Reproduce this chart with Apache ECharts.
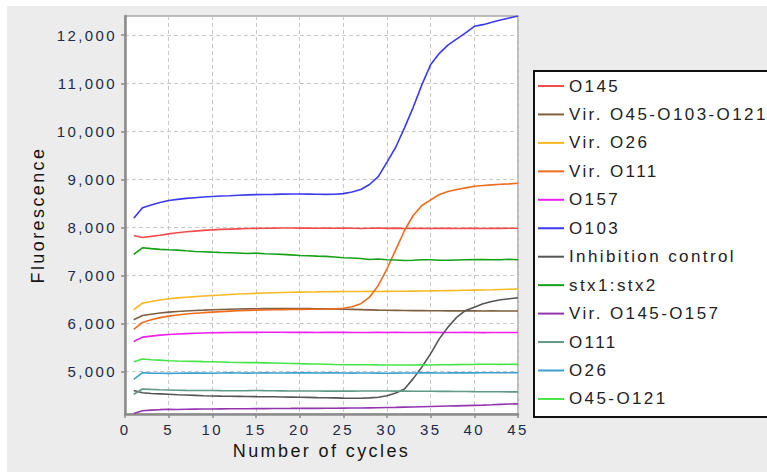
<!DOCTYPE html>
<html>
<head>
<meta charset="utf-8">
<script src="https://cdn.jsdelivr.net/npm/echarts@6/dist/echarts.min.js"></script>
<style>
html,body{margin:0;padding:0;background:#ffffff;}
#bg{position:absolute;left:7px;top:6px;width:760px;height:466px;background:#ececec;}
#chart{position:absolute;left:0;top:0;width:767px;height:473px;}
#chart svg text{letter-spacing:2.4px;}
</style>
</head>
<body>
<div id="bg"></div>
<div id="chart"></div>
<script>
const cycles = [1,2,3,4,5,6,7,8,9,10,11,12,13,14,15,16,17,18,19,20,21,22,23,24,25,26,27,28,29,30,31,32,33,34,35,36,37,38,39,40,41,42,43,44,45];
const yTickValues = [5000,6000,7000,8000,9000,10000,11000,12000];
const xTickValues = [0,5,10,15,20,25,30,35,40,45];

const seriesNames = ['O145','Vir. O45-O103-O121','Vir. O26','Vir. O111','O157','O103','Inhibition control','stx1:stx2','Vir. O145-O157','O111','O26','O45-O121'];
const seriesColors = ['#f24c4c','#7f5f3f','#f7b824','#ef6c1e','#f01ef0','#3a3af0','#555555','#16a016','#9435b0','#5f9a82','#3aa2d2','#46e446'];

const o145 = [7834,7792,7815,7840,7868,7890,7910,7925,7940,7951,7960,7966,7972,7978,7982,7985,7987,7988,7990,7986,7989,7985,7990,7984,7987,7985,7980,7984,7988,7982,7986,7980,7984,7982,7980,7984,7982,7979,7983,7981,7979,7983,7981,7985,7983];
const virO45O103O121 = [6081,6170,6195,6220,6239,6252,6263,6272,6280,6289,6295,6300,6305,6308,6310,6312,6313,6314,6313,6312,6312,6311,6308,6305,6300,6296,6292,6287,6282,6278,6275,6272,6270,6270,6268,6268,6266,6267,6265,6266,6264,6265,6263,6264,6262];
const virO26 = [6289,6426,6460,6490,6518,6535,6550,6562,6575,6586,6595,6605,6615,6623,6630,6637,6643,6648,6652,6655,6658,6660,6663,6665,6667,6668,6670,6671,6670,6672,6674,6675,6677,6679,6681,6684,6687,6690,6694,6697,6700,6704,6709,6714,6719];
const virO111 = [5879,6025,6080,6125,6156,6180,6200,6215,6228,6239,6250,6260,6268,6274,6280,6285,6290,6292,6295,6297,6298,6300,6303,6308,6320,6350,6414,6551,6794,7141,7536,7938,8250,8457,8576,8686,8748,8790,8825,8859,8873,8887,8900,8908,8921];
const o157 = [5630,5719,5740,5760,5775,5785,5793,5800,5805,5810,5813,5815,5818,5820,5818,5820,5822,5820,5818,5820,5818,5816,5818,5820,5818,5815,5817,5815,5818,5816,5818,5815,5817,5815,5818,5816,5814,5816,5818,5815,5813,5816,5815,5817,5815];
const o103 = [8193,8410,8470,8520,8561,8585,8605,8620,8635,8645,8655,8662,8670,8678,8684,8688,8690,8694,8697,8698,8695,8692,8690,8693,8705,8740,8790,8895,9060,9360,9670,10073,10500,10972,11389,11624,11798,11923,12048,12185,12220,12268,12318,12360,12400];
const inhibitionControl = [4610,4562,4545,4538,4530,4522,4515,4508,4500,4495,4492,4490,4487,4484,4481,4480,4478,4475,4472,4468,4465,4460,4458,4455,4450,4448,4447,4455,4470,4500,4557,4640,4856,5097,5376,5688,5929,6135,6274,6343,6414,6462,6497,6518,6538];
const stx1stx2 = [7439,7578,7560,7545,7536,7530,7515,7501,7495,7487,7480,7475,7468,7460,7466,7455,7448,7440,7430,7418,7412,7405,7400,7385,7370,7365,7355,7335,7345,7330,7325,7314,7318,7330,7328,7320,7318,7325,7330,7335,7332,7328,7330,7338,7330];
const virO145O157 = [4130,4189,4200,4210,4218,4215,4220,4222,4224,4224,4226,4228,4228,4230,4232,4232,4234,4235,4236,4238,4236,4238,4240,4240,4242,4244,4246,4248,4250,4255,4258,4262,4265,4270,4275,4280,4285,4290,4295,4300,4305,4312,4320,4328,4330];
const o111 = [4530,4640,4632,4625,4620,4615,4612,4610,4610,4608,4606,4605,4604,4606,4610,4606,4603,4602,4600,4600,4598,4597,4596,4595,4595,4596,4597,4598,4597,4598,4596,4595,4594,4593,4592,4590,4590,4588,4587,4585,4584,4583,4582,4581,4580];
const o26 = [4842,4979,4970,4968,4965,4968,4970,4972,4970,4968,4972,4975,4973,4970,4974,4976,4974,4972,4975,4977,4975,4973,4976,4975,4973,4971,4974,4972,4970,4968,4970,4972,4974,4975,4976,4974,4975,4977,4976,4975,4977,4978,4977,4979,4980];
const o45O121 = [5208,5264,5250,5240,5229,5222,5218,5214,5210,5208,5202,5196,5192,5188,5188,5184,5180,5176,5172,5167,5163,5160,5155,5150,5146,5146,5145,5145,5142,5140,5140,5138,5140,5142,5140,5145,5146,5148,5150,5152,5155,5155,5153,5155,5153];

const seriesValues = [o145, virO45O103O121, virO26, virO111, o157, o103, inhibitionControl, stx1stx2, virO145O157, o111, o26, o45O121];

const chart = echarts.init(document.getElementById('chart'), null, {renderer: 'svg'});
const font = '"Liberation Sans", Arial, sans-serif';

const series = seriesNames.map((name, i) => ({
  name: name,
  type: 'line',
  data: cycles.map((c, j) => [c, seriesValues[i][j]]),
  symbol: 'none',
  showSymbol: false,
  smooth: false,
  clip: true,
  lineStyle: {color: seriesColors[i], width: 1.6},
  itemStyle: {color: seriesColors[i]},
  emphasis: {disabled: true},
  animation: false
}));

chart.setOption({
  animation: false,
  backgroundColor: 'transparent',
  textStyle: {fontFamily: font},
  grid: {
    left: 125, right: 249, top: 16, bottom: 59,
    show: true, backgroundColor: '#ffffff',
    borderColor: '#a8a8a8', borderWidth: 1.5
  },
  xAxis: {
    type: 'value', min: 0, max: 45, interval: 5,
    name: 'Number of cycles', nameLocation: 'middle', nameGap: 28,
    nameTextStyle: {fontSize: 18, color: '#151515', fontFamily: font},
    axisLine: {show: true, onZero: false, lineStyle: {color: '#8c8c8c', width: 2.5}},
    axisTick: {show: true, length: 4, lineStyle: {color: '#8c8c8c', width: 1.5}, customValues: xTickValues},
    axisLabel: {fontSize: 15, color: '#1e2a48', margin: 8, fontFamily: font, customValues: xTickValues},
    splitLine: {show: true, lineStyle: {color: '#c8c8c8', type: [4, 3], width: 1}}
  },
  yAxis: {
    type: 'value', min: 4120, max: 12400,
    name: 'Fluorescence', nameLocation: 'middle', nameGap: 78,
    nameTextStyle: {fontSize: 18, color: '#151515', fontFamily: font},
    axisLine: {show: true, onZero: false, lineStyle: {color: '#8c8c8c', width: 2.5}},
    axisTick: {show: true, length: 4, lineStyle: {color: '#8c8c8c', width: 1.5}, customValues: yTickValues},
    axisLabel: {
      fontSize: 15, color: '#1e2a48', margin: 8, fontFamily: font,
      customValues: yTickValues,
      formatter: v => v.toLocaleString('en-US')
    },
    splitLine: {show: true, lineStyle: {color: '#c8c8c8', type: [4, 3], width: 1}}
  },
  legend: {
    orient: 'vertical',
    left: 534, top: 71,
    padding: [6, 140, 9, 4],
    itemGap: 10.45,
    itemWidth: 26, itemHeight: 14,
    icon: 'path://M0,0H26V2H0Z',
    backgroundColor: '#ffffff',
    borderColor: '#111111', borderWidth: 2,
    textStyle: {fontSize: 17, color: '#222222', lineHeight: 18, fontFamily: font},
    data: seriesNames,
    selectedMode: false
  },
  series: series
});
</script>
</body>
</html>
